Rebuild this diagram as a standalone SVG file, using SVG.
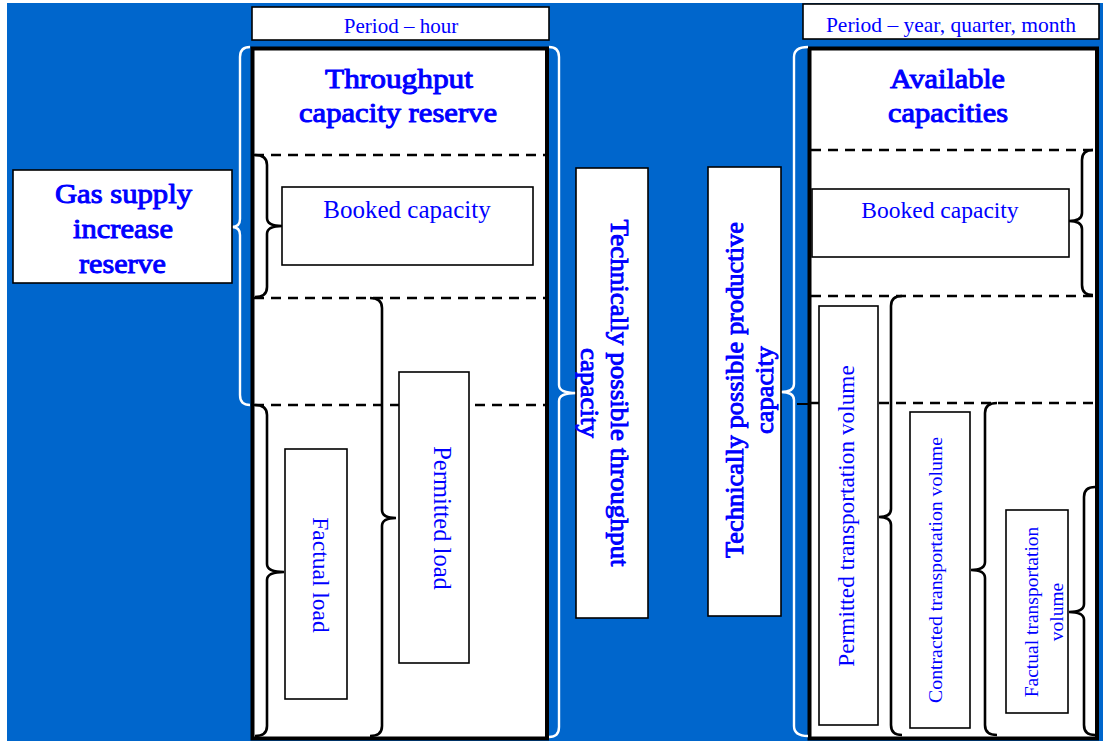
<svg xmlns="http://www.w3.org/2000/svg" width="1103" height="741" viewBox="0 0 1103 741">
<style>
.t{font-family:"Liberation Serif","Times New Roman",serif;fill:#0000FF;text-anchor:middle}
.b{font-size:28px;stroke:#0000FF;stroke-width:1;stroke-linejoin:round}
.bv{font-size:25px;stroke:#0000FF;stroke-width:0.9;stroke-linejoin:round}
.box{fill:#fff;stroke:#000;stroke-width:1.6}
.panel{fill:#fff;stroke:#000;stroke-width:4}
.dash{stroke:#000;stroke-width:2.5;stroke-dasharray:10 7;fill:none}
.br{fill:none;stroke:#000;stroke-width:2.6}
.wbr{fill:none;stroke:#fff;stroke-width:2.4}
</style>
<rect x="0" y="0" width="1103" height="741" fill="#fff"/>
<rect x="7" y="3" width="1096" height="738" fill="#0066CC"/>

<g id="left-panel">
<rect class="panel" x="252.5" y="48.5" width="294.5" height="690"/>
<text class="t b" x="399" y="88" textLength="148" lengthAdjust="spacingAndGlyphs">Throughput</text>
<text class="t b" x="398" y="122" textLength="198" lengthAdjust="spacingAndGlyphs">capacity reserve</text>
</g>
<g id="right-panel">
<rect class="panel" x="809.5" y="48.5" width="287.5" height="690"/>
<text class="t b" x="947.5" y="88" textLength="115" lengthAdjust="spacingAndGlyphs">Available</text>
<text class="t b" x="948" y="122" textLength="120" lengthAdjust="spacingAndGlyphs">capacities</text>
</g>

<g id="connectors">
<line class="dash" x1="254" y1="155" x2="545" y2="155"/>
<line class="dash" x1="254" y1="298" x2="545" y2="298"/>
<line class="dash" x1="254" y1="405" x2="545" y2="405"/>
<line class="dash" x1="811" y1="150" x2="1095" y2="150"/>
<line class="dash" x1="811" y1="296" x2="1095" y2="296"/>
<line class="dash" x1="811" y1="403" x2="1095" y2="403"/>
<line x1="797" y1="404" x2="808" y2="404" stroke="#000" stroke-width="2"/>
<path class="br" d="M255,155 Q267,155 267,165 L267,218 Q267,226 282,226 Q267,226 267,234 L267,287 Q267,297 255,297"/>
<path class="br" d="M370,298 Q382,298 382,308 L382,510 Q382,518 396,518 Q382,518 382,526 L382,726 Q382,736 370,736"/>
<path class="br" d="M255,405 Q267,405 267,415 L267,564 Q267,572 284,572 Q267,572 267,580 L267,726 Q267,736 255,736"/>
<path class="br" d="M1093,150 Q1082,150 1082,160 L1082,213 Q1082,221 1069,221 Q1082,221 1082,229 L1082,285 Q1082,295 1093,295"/>
<path class="br" d="M902,296 Q891,296 891,306 L891,509 Q891,517 879,517 Q891,517 891,525 L891,725 Q891,735 902,735"/>
<path class="br" d="M997,403 Q985,403 985,413 L985,562 Q985,570 971,570 Q985,570 985,578 L985,725 Q985,735 997,735"/>
<path class="br" d="M1095,487 Q1084,487 1084,497 L1084,604 Q1084,612 1069,612 Q1084,612 1084,620 L1084,725 Q1084,735 1095,735"/>
<path class="wbr" d="M250,47 Q240,47 240,57 L240,219 Q240,227 232,227 Q240,227 240,235 L240,395 Q240,405 250,405"/>
<path class="wbr" d="M549,47 Q559,47 559,57 L559,385 Q559,393 576,393 Q559,393 559,401 L559,727 Q559,737 549,737"/>
<path class="wbr" d="M808,47 Q794,47 794,57 L794,384 Q794,392 781,392 Q794,392 794,400 L794,726 Q794,736 808,736"/>
</g>

<g id="period-hour">
<rect class="box" x="252" y="7" width="297" height="33"/>
<text class="t" x="401" y="33" font-size="21">Period – hour</text>
</g>
<g id="period-year">
<rect class="box" x="803" y="4" width="296" height="35"/>
<text class="t" x="951" y="32" font-size="21.5">Period – year, quarter, month</text>
</g>
<g id="gas-supply">
<rect class="box" x="13" y="170" width="219" height="113" stroke-width="2"/>
<text class="t b" x="123.5" y="203" textLength="137" lengthAdjust="spacingAndGlyphs">Gas supply</text>
<text class="t b" x="123" y="238" textLength="100" lengthAdjust="spacingAndGlyphs">increase</text>
<text class="t b" x="122.5" y="273" textLength="87" lengthAdjust="spacingAndGlyphs">reserve</text>
</g>
<g id="booked-left">
<rect class="box" x="282" y="187" width="251" height="78"/>
<text class="t" x="407" y="218" font-size="25">Booked capacity</text>
</g>
<g id="factual-load">
<rect class="box" x="285" y="449" width="62" height="250"/>
<text class="t" font-size="23.5" transform="translate(312.5,575) rotate(90)">Factual load</text>
</g>
<g id="permitted-load">
<rect class="box" x="399" y="372" width="70" height="291"/>
<text class="t" font-size="24.5" transform="translate(433.5,518) rotate(90)">Permitted load</text>
</g>
<g id="tech-throughput">
<rect class="box" x="576" y="168" width="72" height="450" stroke-width="2"/>
<text class="t bv" transform="translate(611,393) rotate(90)"><tspan x="0" y="0" textLength="347" lengthAdjust="spacingAndGlyphs">Technically possible throughput</tspan><tspan x="0" y="30" textLength="90" lengthAdjust="spacingAndGlyphs">capacity</tspan></text>
</g>
<g id="tech-productive">
<rect class="box" x="708" y="167" width="73" height="449" stroke-width="2"/>
<text class="t bv" transform="translate(743,390) rotate(-90)"><tspan x="0" y="0" textLength="336" lengthAdjust="spacingAndGlyphs">Technically possible productive</tspan><tspan x="0" y="30" textLength="88" lengthAdjust="spacingAndGlyphs">capacity</tspan></text>
</g>
<g id="booked-right">
<rect class="box" x="812" y="189" width="257" height="68"/>
<text class="t" x="940" y="218" font-size="23.5">Booked capacity</text>
</g>
<g id="permitted-transport">
<rect class="box" x="819" y="306" width="59" height="419"/>
<text class="t" font-size="23.3" transform="translate(854,516) rotate(-90)">Permitted transportation volume</text>
</g>
<g id="contracted-transport">
<rect class="box" x="910" y="412" width="60" height="316"/>
<text class="t" font-size="19.8" transform="translate(942,570) rotate(-90)">Contracted transportation volume</text>
</g>
<g id="factual-transport">
<rect class="box" x="1006" y="510" width="62" height="203"/>
<text class="t" font-size="19.5" transform="translate(1038,612) rotate(-90)"><tspan x="0" y="0">Factual transportation</tspan><tspan x="0" y="25">volume</tspan></text>
</g>
</svg>
